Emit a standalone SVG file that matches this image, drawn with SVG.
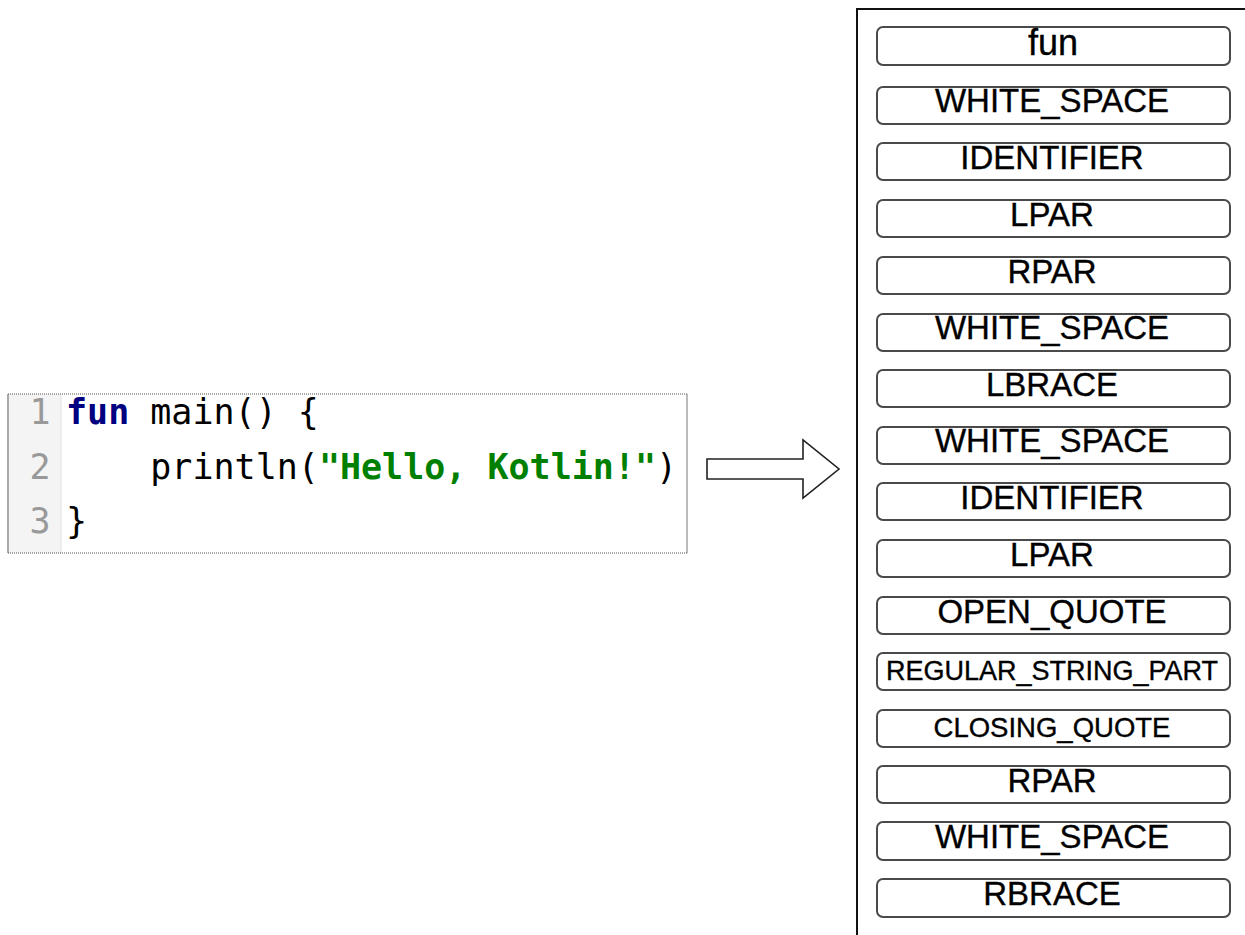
<svg xmlns="http://www.w3.org/2000/svg" width="1245" height="935" viewBox="0 0 1245 935">
<style>
.tok rect{fill:#fff;stroke:#4a4a4a;stroke-width:2}
.tok text{font-family:"Liberation Sans",Arial,sans-serif;font-size:33px;fill:#000;stroke:#000;stroke-width:0.35;text-anchor:middle}
.code{font-family:"DejaVu Sans Mono",monospace;font-size:35px}
.ln{fill:#999}
.kw{fill:#000080;font-weight:bold}
.str{fill:#008000;font-weight:bold}
.pl{fill:#000}
</style>
<rect width="1245" height="935" fill="#fff"/>
<g id="code-panel">
<rect x="8" y="394" width="679" height="159" fill="#fff"/>
<rect x="8" y="394" width="53" height="159" fill="#f4f4f4"/>
<line x1="61" y1="394" x2="61" y2="553" stroke="#e0e0e0" stroke-width="1"/>
<line x1="8" y1="394" x2="8" y2="553" stroke="#aaa" stroke-width="2"/>
<line x1="687" y1="394" x2="687" y2="553" stroke="#bbb" stroke-width="2"/>
<line x1="8" y1="394" x2="688" y2="394" stroke="#555" stroke-width="1" stroke-dasharray="1,1"/>
<line x1="8" y1="553" x2="688" y2="553" stroke="#555" stroke-width="1" stroke-dasharray="1,1"/>
<text class="code ln" x="29.5" y="424">1</text>
<text class="code ln" x="29.5" y="479">2</text>
<text class="code ln" x="29.5" y="533">3</text>
<text class="code" x="66" y="424" xml:space="preserve"><tspan class="kw">fun</tspan><tspan class="pl"> main() {</tspan></text>
<text class="code" x="66" y="479" xml:space="preserve"><tspan class="pl">    println(</tspan><tspan class="str">"Hello, Kotlin!"</tspan><tspan class="pl">)</tspan></text>
<text class="code pl" x="66" y="533">}</text>
</g>
<g id="connectors">
<polygon points="707,459 803,459 803,440 839,469 803,498 803,479 707,479" fill="#fff" stroke="#222" stroke-width="1.6" stroke-linejoin="miter"/>
</g>
<g id="token-list">
<rect x="857" y="9" width="420" height="940" fill="none" stroke="#111" stroke-width="2"/>
</g>
<g id="tok-0" class="tok"><rect x="877" y="27" width="353" height="38" rx="6"/><text x="1053" y="55" style="font-size:36px">fun</text></g>
<g id="tok-1" class="tok"><rect x="877" y="87" width="353" height="37" rx="6"/><text x="1052" y="112">WHITE_SPACE</text></g>
<g id="tok-2" class="tok"><rect x="877" y="143" width="353" height="37" rx="6"/><text x="1052" y="169">IDENTIFIER</text></g>
<g id="tok-3" class="tok"><rect x="877" y="200" width="353" height="37" rx="6"/><text x="1052" y="226">LPAR</text></g>
<g id="tok-4" class="tok"><rect x="877" y="257" width="353" height="37" rx="6"/><text x="1052" y="283">RPAR</text></g>
<g id="tok-5" class="tok"><rect x="877" y="314" width="353" height="37" rx="6"/><text x="1052" y="339">WHITE_SPACE</text></g>
<g id="tok-6" class="tok"><rect x="877" y="370" width="353" height="37" rx="6"/><text x="1052" y="396">LBRACE</text></g>
<g id="tok-7" class="tok"><rect x="877" y="427" width="353" height="37" rx="6"/><text x="1052" y="452">WHITE_SPACE</text></g>
<g id="tok-8" class="tok"><rect x="877" y="483" width="353" height="37" rx="6"/><text x="1052" y="509">IDENTIFIER</text></g>
<g id="tok-9" class="tok"><rect x="877" y="540" width="353" height="37" rx="6"/><text x="1052" y="566">LPAR</text></g>
<g id="tok-10" class="tok"><rect x="877" y="597" width="353" height="37" rx="6"/><text x="1052" y="623">OPEN_QUOTE</text></g>
<g id="tok-11" class="tok"><rect x="877" y="653" width="353" height="37" rx="6"/><text x="1052" y="680" style="font-size:27px">REGULAR_STRING_PART</text></g>
<g id="tok-12" class="tok"><rect x="877" y="710" width="353" height="37" rx="6"/><text x="1052" y="737" style="font-size:27.5px">CLOSING_QUOTE</text></g>
<g id="tok-13" class="tok"><rect x="877" y="766" width="353" height="37" rx="6"/><text x="1052" y="792">RPAR</text></g>
<g id="tok-14" class="tok"><rect x="877" y="822" width="353" height="38" rx="6"/><text x="1052" y="848">WHITE_SPACE</text></g>
<g id="tok-15" class="tok"><rect x="877" y="879" width="353" height="38" rx="6"/><text x="1052" y="905">RBRACE</text></g>
</svg>
